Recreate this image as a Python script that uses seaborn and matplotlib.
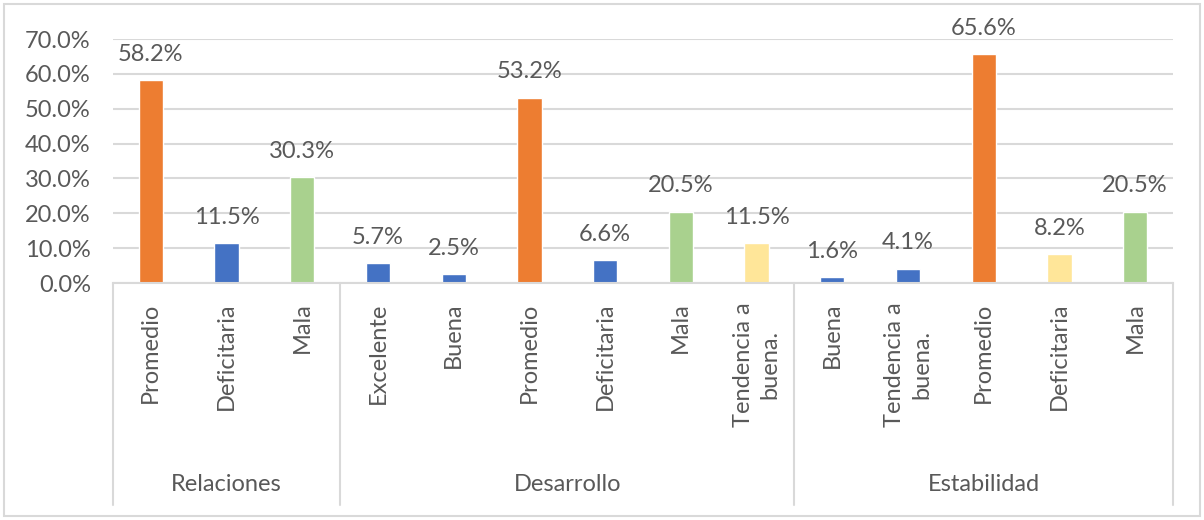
import matplotlib
matplotlib.use("Agg")
import matplotlib.pyplot as plt
import seaborn as sns
import pandas as pd
from matplotlib.patches import Rectangle
import matplotlib.transforms as mtransforms

groups = ["Relaciones", "Desarrollo", "Estabilidad"]
group_sizes = [3, 6, 5]
categories = ["Promedio", "Deficitaria", "Mala",
              "Excelente", "Buena", "Promedio", "Deficitaria", "Mala", "Tendencia a\nbuena.",
              "Buena", "Tendencia a\nbuena.", "Promedio", "Deficitaria", "Mala"]
values = [58.2, 11.5, 30.3,
          5.7, 2.5, 53.2, 6.6, 20.5, 11.5,
          1.6, 4.1, 65.6, 8.2, 20.5]
ORANGE, BLUE, GREEN, YELLOW = "#ED7D31", "#4472C4", "#A9D18E", "#FFE699"
colors = [ORANGE, BLUE, GREEN,
          BLUE, BLUE, ORANGE, BLUE, GREEN, YELLOW,
          BLUE, BLUE, ORANGE, YELLOW, GREEN]

keys = [f"{i}" for i in range(len(values))]
df = pd.DataFrame({"key": keys, "value": [v / 100 for v in values]})

sns.set_theme(style="white")
plt.rcParams["font.family"] = ["Lato", "DejaVu Sans"]
TXT = "#595959"
GRID = "#D9D9D9"
FS = 17

W, H = 1204, 520
fig = plt.figure(figsize=(W / 100, H / 100), dpi=100)
ax = fig.add_axes([113 / W, 1 - 283 / H, (1173 - 113) / W, (283 - 39) / H])

sns.barplot(data=df, x="key", y="value", hue="key", palette=colors, dodge=False,
            width=0.32, legend=False, ax=ax, saturation=1)

ax.set_ylim(0, 0.7)
ax.set_xlim(-0.5, len(values) - 0.5)
ax.set_yticks([i / 10 for i in range(8)])
ax.set_yticklabels([f"{i*10:.1f}%" for i in range(8)], fontsize=FS, color=TXT)
ax.yaxis.grid(True, color=GRID, linewidth=1.5)
ax.set_axisbelow(True)
for s in ["top", "right", "left"]:
    ax.spines[s].set_visible(False)
ax.spines["bottom"].set_color(GRID)
ax.spines["bottom"].set_linewidth(1.5)
ax.tick_params(axis="y", length=0, pad=16)
ax.tick_params(axis="x", length=0, pad=14)
ax.set_xticks(range(len(values)))
ax.set_xticklabels(categories, rotation=90, fontsize=FS, color=TXT, va="top", ha="center",
                   multialignment="center", linespacing=1.35)
ax.set_xlabel("")
ax.set_ylabel("")

for i, v in enumerate(values):
    ax.annotate(f"{v:.1f}%", (i, v / 100), xytext=(0, 11), textcoords="offset points",
                ha="center", va="bottom", fontsize=FS, color=TXT)

trans = mtransforms.blended_transform_factory(ax.transData, ax.transAxes)
axh = 283 - 39
bounds = [-0.5]
for n in group_sizes:
    bounds.append(bounds[-1] + n)
for b in bounds:
    ax.plot([b, b], [0, -(505 - 283) / axh], transform=trans, color=GRID, linewidth=1.5,
            clip_on=False)
for g, a, b in zip(groups, bounds[:-1], bounds[1:]):
    ax.text((a + b) / 2, -(485 - 283) / axh, g, transform=trans, ha="center", va="center",
            fontsize=FS, color=TXT)

fig.patches.append(Rectangle((4 / W, 4 / H), 1 - 8 / W, 1 - 8 / H, transform=fig.transFigure,
                             fill=False, edgecolor=GRID, linewidth=1.5))

fig.savefig("out.png", dpi=100)
